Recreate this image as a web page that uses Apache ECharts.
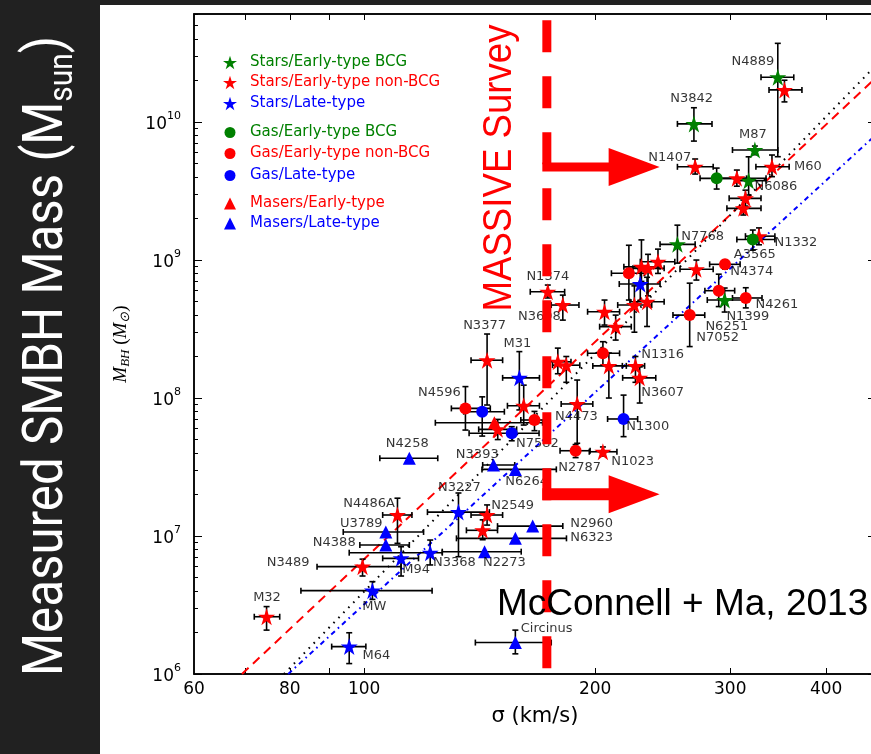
<!DOCTYPE html>
<html><head><meta charset="utf-8">
<script src="https://cdn.jsdelivr.net/npm/echarts@6/dist/echarts.min.js"></script>
<style>
html,body{margin:0;padding:0;background:#212121;}
#wrap{position:relative;width:871px;height:754px;overflow:hidden;background:#212121;}
#white{position:absolute;left:100px;top:5px;width:771px;height:749px;background:#fff;}
#chart{position:absolute;left:0;top:0;width:880px;height:754px;}
</style></head><body>
<div id="wrap"><div id="white"></div><div id="chart"></div></div>
<script>
// ---- data: [sigma (km/s), M_BH (Msun), sigma_lo, sigma_hi, M_lo, M_hi]
const starsEarlyBCG = [
  [346, 2.11e10, 329, 363, 5.61e9, 3.72e10],
  [269, 9.7e9, 256, 284, 7.28e9, 1.27e10],
  [323, 6.27e9, 302, 346, 5.8e9, 6.7e9],
  [317, 3.76e9, 304, 334, 2.96e9, 5.6e9],
  [256, 1.30e9, 243, 270, 9.5e8, 1.79e9],
  [295, 5.13e8, 280, 314, 4.2e8, 6.27e8]
];
const starsEarlyNonBCG = [
  [353, 1.71e10, 337, 372, 1.40e10, 2.01e10],
  [270, 4.74e9, 256, 285, 4.2e9, 5.4e9],
  [340, 4.74e9, 324, 358, 4.02e9, 5.77e9],
  [306, 3.91e9, 291, 334, 3.43e9, 4.49e9],
  [314, 2.80e9, 299, 329, 2.46e9, 3.21e9],
  [312, 2.37e9, 297, 329, 2.12e9, 2.72e9],
  [327, 1.49e9, 314, 343, 1.29e9, 1.71e9],
  [271, 8.57e8, 258, 285, 7.16e8, 1.0e9],
  [173.5, 5.89e8, 164.6, 182.5, 5.31e8, 6.59e8],
  [181.5, 4.72e8, 175.3, 190.5, 3.67e8, 5.57e8],
  [205.7, 4.22e8, 195.5, 215.2, 3.38e8, 5.13e8],
  [212.7, 3.29e8, 202.7, 222.9, 2.63e8, 3.99e8],
  [229.8, 8.93e8, 218, 243, 7.0e8, 1.40e9],
  [234.4, 8.71e8, 224, 246, 5.5e8, 1.10e9],
  [241.5, 9.73e8, 229, 254, 8.0e8, 1.2e9],
  [225, 4.72e8, 214, 237, 3.0e8, 6.5e8],
  [233.7, 4.99e8, 222, 246, 3.3e8, 7.5e8],
  [144.6, 1.88e8, 137.8, 151.5, 8.9e7, 2.91e8],
  [161.4, 8.79e7, 153.7, 169.2, 6.37e7, 1.24e8],
  [149.3, 5.93e7, 141, 158, 5.0e7, 7.0e7],
  [208.4, 1.71e8, 198.6, 219.6, 1.0e8, 2.12e8],
  [225.7, 1.71e8, 217, 232, 1.3e8, 2.0e8],
  [228.6, 1.40e8, 217.2, 239.9, 9.2e7, 1.68e8],
  [178.8, 1.83e8, 172, 186, 1.5e8, 2.3e8],
  [183.4, 1.73e8, 176, 191, 1.3e8, 2.0e8],
  [189.5, 9.06e7, 180.6, 198.6, 4.7e7, 1.35e8],
  [204.7, 4.08e7, 196.5, 213.5, 3.8e7, 4.42e7],
  [110.5, 1.42e7, 105.7, 115.4, 8.85e6, 1.88e7],
  [144.6, 1.42e7, 137.8, 151.5, 1.20e7, 1.68e7],
  [142.7, 1.10e7, 135.9, 149.2, 9.4e6, 1.31e7],
  [99.5, 6.0e6, 86.8, 111.7, 5.13e6, 6.8e6],
  [74.6, 2.60e6, 71.9, 77.6, 2.08e6, 3.08e6]
];
const starsLate = [
  [229, 6.70e8, 215, 243, 5.1e8, 8.5e8],
  [159.3, 1.40e8, 151.5, 169.2, 8.2e7, 2.17e8],
  [132.7, 1.49e7, 120.9, 145.6, 7.08e6, 2.05e7],
  [111.7, 6.89e6, 105.7, 117.7, 5.13e6, 8.36e6],
  [121.9, 7.57e6, 95.6, 126.4, 6.17e6, 9.35e6],
  [102.5, 4.02e6, 82.7, 122.6, 3.47e6, 4.67e6],
  [95.6, 1.58e6, 90.7, 100.5, 1.19e6, 1.99e6]
];
const gasEarlyBCG = [
  [288, 3.91e9, 274, 315, 3.27e9, 4.64e9],
  [321, 1.41e9, 306, 343, 1.18e9, 1.65e9]
];
const gasEarlyNonBCG = [
  [221.3, 8.02e8, 210, 232, 5.13e8, 1.28e9],
  [295.3, 9.31e8, 282, 309, 8.6e8, 1.0e9],
  [289.8, 6.0e8, 278, 304, 4.6e8, 7.9e8],
  [314.3, 5.31e8, 302, 330, 4.5e8, 6.3e8],
  [265.6, 3.99e8, 252.6, 277.9, 2.36e8, 6.8e8],
  [204.7, 2.11e8, 195.5, 215.2, 1.73e8, 2.56e8],
  [188.6, 4.15e7, 180, 197, 3.7e7, 4.6e7],
  [135.5, 8.41e7, 129.9, 146, 5.86e7, 1.21e8],
  [166.7, 6.93e7, 160, 174, 5.8e7, 8.0e7]
];
const gasLate = [
  [142.5, 7.96e7, 134.8, 152.3, 5.3e7, 1.02e8],
  [155.7, 5.55e7, 137, 169, 4.9e7, 6.2e7],
  [217.8, 7.05e7, 207.6, 227.2, 5.25e7, 1.05e8]
];
const masersEarly = [
  [147.8, 6.62e7, 123.8, 170.8, 6.62e7, 6.62e7]
];
const masersLate = [
  [114.5, 3.66e7, 104.8, 124.7, 3.66e7, 3.66e7],
  [147.4, 3.27e7, 142.7, 157.1, 3.27e7, 3.27e7],
  [157.4, 3.04e7, 142.4, 178, 3.04e7, 3.04e7],
  [165.8, 1.18e7, 149.2, 181.5, 1.18e7, 1.18e7],
  [157.4, 9.62e6, 131.9, 183.5, 9.62e6, 9.62e6],
  [143.5, 7.7e6, 126.4, 160.2, 7.7e6, 7.7e6],
  [106.7, 1.07e7, 93.9, 119.5, 1.07e7, 1.07e7],
  [106.7, 8.61e6, 98.7, 114.5, 8.61e6, 8.61e6],
  [157.4, 1.69e6, 139.6, 175.3, 1.40e6, 2.08e6]
];
// galaxy name labels: [text, sigma, M] (data position of the label centre)
const nameLabels = [
  ['N4889', 321, 2.72e10], ['N3842', 267.2, 1.47e10], ['M87', 321, 8.05e9], ['N1407', 250.2, 5.48e9],
  ['M60', 378.7, 4.72e9], ['N6086', 344, 3.38e9], ['N7768', 276.2, 1.47e9], ['N1332', 365.3, 1.33e9],
  ['A3565', 322.9, 1.10e9], ['N4374', 320, 8.18e8], ['N4261', 345, 4.72e8], ['N1399', 316.2, 3.86e8],
  ['N6251', 296.9, 3.27e8], ['N7052', 288.9, 2.72e8], ['N1374', 173.5, 7.53e8], ['N3608', 169.2, 3.86e8],
  ['N3377', 143.5, 3.33e8], ['M31', 158.4, 2.46e8], ['N1316', 244.9, 2.05e8], ['N3607', 244.9, 1.09e8],
  ['N4596', 125.3, 1.09e8], ['N4473', 189.0, 7.28e7], ['N1300', 234.2, 6.17e7], ['N7582', 168.2, 4.64e7],
  ['N4258', 113.8, 4.64e7], ['N3393', 140.4, 3.86e7], ['N2787', 190.9, 3.11e7], ['N1023', 223.8, 3.44e7],
  ['N6264', 162.8, 2.46e7], ['N3227', 133.1, 2.23e7], ['N2549', 156.1, 1.65e7], ['N4486A', 101.5, 1.73e7],
  ['U3789', 99.1, 1.24e7], ['N2960', 197.9, 1.22e7], ['N6323', 197.9, 9.68e6], ['N4388', 91.4, 8.89e6],
  ['N3489', 79.6, 6.37e6], ['M94', 116.9, 5.67e6], ['N3368', 131.1, 6.37e6], ['N2273', 152.3, 6.37e6],
  ['MW', 103.1, 3.06e6], ['M32', 74.7, 3.56e6], ['M64', 103.7, 1.37e6], ['Circinus', 172.9, 2.15e6]
];
// fit relations (end points)
const fitEarly = [[69.3, 1.0e6], [464.6, 2.1e10]];
const fitAll = [[78.6, 1.0e6], [464.6, 2.58e10]];
const fitLate = [[79.6, 1.0e6], [464.6, 8.1e9]];
// MASSIVE survey threshold and arrows
const massiveSigma = 173;
const massiveLine = [[173, 5.48e10], [173, 1.1e6]];
const arrowRows = [4.72e9, 2.01e7];
const arrowTipSigma = 242.7;
// axes
const xTickLabels = [60, 80, 100, 200, 300, 400];
const xTicks = [70, 80, 90, 100, 200, 300, 400];
const yTickLabels = [1e6, 1e7, 1e8, 1e9, 1e10];
const yMinorTicks = [];
for (let e = 6; e <= 10; e++) for (let k = 2; k <= 9; k++) yMinorTicks.push(k * Math.pow(10, e));

const STAR = 'path://M0,-10L2.245,-3.09L9.511,-3.09L3.633,1.18L5.878,8.09L0,3.82L-5.878,8.09L-3.633,1.18L-9.511,-3.09L-2.245,-3.09Z';
const GREEN = '#008000', RED = '#ff0000', BLUE = '#0000ff';
const cats = [
  {name: 'Stars/Early-type BCG', data: starsEarlyBCG, color: GREEN, symbol: STAR, size: 17, lsize: 14, row: 64},
  {name: 'Stars/Early-type non-BCG', data: starsEarlyNonBCG, color: RED, symbol: STAR, size: 17, lsize: 14, row: 84},
  {name: 'Stars/Late-type', data: starsLate, color: BLUE, symbol: STAR, size: 17, lsize: 14, row: 105},
  {name: 'Gas/Early-type BCG', data: gasEarlyBCG, color: GREEN, symbol: 'circle', size: 12, lsize: 11, row: 134},
  {name: 'Gas/Early-type non-BCG', data: gasEarlyNonBCG, color: RED, symbol: 'circle', size: 12, lsize: 11, row: 155},
  {name: 'Gas/Late-type', data: gasLate, color: BLUE, symbol: 'circle', size: 12, lsize: 11, row: 177},
  {name: 'Masers/Early-type', data: masersEarly, color: RED, symbol: 'triangle', size: 13, lsize: 12, row: 205},
  {name: 'Masers/Late-type', data: masersLate, color: BLUE, symbol: 'triangle', size: 13, lsize: 12, row: 225}
];

const FONT = 'DejaVu Sans';
const chart = echarts.init(document.getElementById('chart'), null, {renderer: 'canvas'});

function renderErr(params, api) {
  const s = api.value(0), m = api.value(1), sl = api.value(2), sh = api.value(3), ml = api.value(4), mh = api.value(5);
  const c = api.coord([s, m]);
  const a = api.coord([sl, m]), b = api.coord([sh, m]);
  const st = {stroke: '#000', lineWidth: 1.6};
  const cap = 3;
  const ch = [
    {type: 'line', shape: {x1: a[0], y1: c[1], x2: b[0], y2: c[1]}, style: st},
    {type: 'line', shape: {x1: a[0], y1: c[1] - cap, x2: a[0], y2: c[1] + cap}, style: st},
    {type: 'line', shape: {x1: b[0], y1: c[1] - cap, x2: b[0], y2: c[1] + cap}, style: st}
  ];
  if (mh > ml) {
    const lo = api.coord([s, ml]), hi = api.coord([s, mh]);
    ch.push({type: 'line', shape: {x1: c[0], y1: lo[1], x2: c[0], y2: hi[1]}, style: st});
    ch.push({type: 'line', shape: {x1: c[0] - cap, y1: lo[1], x2: c[0] + cap, y2: lo[1]}, style: st});
    ch.push({type: 'line', shape: {x1: c[0] - cap, y1: hi[1], x2: c[0] + cap, y2: hi[1]}, style: st});
  }
  return {type: 'group', children: ch};
}

const allErr = [];
cats.forEach(c => c.data.forEach(d => allErr.push(d)));

const series = [];
series.push({
  type: 'custom', name: 'err', renderItem: renderErr, data: allErr,
  dimensions: ['s', 'm', 'sl', 'sh', 'ml', 'mh'], encode: {x: 0, y: 1},
  z: 2, silent: true, clip: true
});
const lineCommon = {type: 'line', showSymbol: false, symbol: 'none', silent: true, z: 1, clip: true};
series.push(Object.assign({}, lineCommon, {name: 'fitEarly', data: fitEarly, lineStyle: {color: RED, width: 2, type: [9, 6]}}));
series.push(Object.assign({}, lineCommon, {name: 'fitAll', data: fitAll, lineStyle: {color: '#000', width: 2, type: [1.6, 5.5]}}));
series.push(Object.assign({}, lineCommon, {name: 'fitLate', data: fitLate, lineStyle: {color: BLUE, width: 2, type: [5, 4, 1.6, 4]}}));
cats.forEach(c => {
  series.push({
    type: 'scatter', name: c.name, data: c.data.map(d => [d[0], d[1]]),
    symbol: c.symbol, symbolSize: c.size, itemStyle: {color: c.color, opacity: 1},
    z: 3, silent: true
  });
});
series.push({
  type: 'scatter', name: 'labels', symbolSize: 0, silent: true, z: 4,
  data: nameLabels.map(l => ({name: l[0], value: [l[1], l[2]]})),
  label: {show: true, position: 'inside', formatter: '{b}', color: '#000',
    fontFamily: FONT, fontSize: 13}
});
series.push({
  type: 'line', name: 'massive', data: massiveLine, showSymbol: false, symbol: 'none', silent: true, z: 10,
  lineStyle: {color: RED, width: 9, type: [32, 24], cap: 'butt'}
});

const legends = cats.map(c => ({
  left: 230 - c.lsize / 2, top: c.row - 9, orient: 'vertical', padding: 0,
  itemWidth: c.lsize, itemHeight: c.lsize, selectedMode: false,
  textStyle: {fontFamily: FONT, fontSize: 15, color: c.color, padding: [0, 0, 0, 15 - c.lsize / 2]},
  data: [{name: c.name, icon: c.symbol, itemStyle: {color: c.color}}]
}));

const option = {
  animation: false,
  backgroundColor: 'transparent',
  grid: {left: 194, right: 4, top: 14, bottom: 80, show: true, borderColor: '#000', borderWidth: 1.5},
  legend: legends,
  xAxis: [{
    type: 'log', logBase: 10, min: 60, max: 464.6, position: 'bottom',
    axisLine: {show: true, lineStyle: {color: '#000', width: 1.5}},
    axisTick: {show: true, inside: true, length: 6, customValues: xTicks, lineStyle: {color: '#000', width: 1}},
    axisLabel: {show: true, customValues: xTickLabels, color: '#000', fontFamily: FONT, fontSize: 17, margin: 7,
      formatter: v => String(Math.round(v))},
    splitLine: {show: false}, minorTick: {show: false},
    name: 'σ (km/s)', nameLocation: 'middle', nameGap: 32,
    nameTextStyle: {color: '#000', fontFamily: FONT, fontSize: 21}
  }, {
    type: 'log', logBase: 10, min: 60, max: 464.6, position: 'top',
    axisLine: {show: true, lineStyle: {color: '#000', width: 1.5}},
    axisTick: {show: true, inside: true, length: 6, customValues: xTicks, lineStyle: {color: '#000'}},
    axisLabel: {show: false}, splitLine: {show: false}
  }],
  yAxis: [{
    type: 'log', logBase: 10, min: 1e6, max: 6.07e10, position: 'left',
    axisLine: {show: true, lineStyle: {color: '#000', width: 1.5}},
    axisTick: {show: true, inside: true, length: 8, customValues: yTickLabels, lineStyle: {color: '#000', width: 1}},
    axisLabel: {show: true, customValues: yTickLabels, margin: 13,
      formatter: v => '{b|10}{s|' + Math.round(Math.log10(v)) + '}',
      rich: {
        b: {fontFamily: FONT, fontSize: 17, color: '#000', lineHeight: 22, verticalAlign: 'bottom'},
        s: {fontFamily: FONT, fontSize: 11, color: '#000', lineHeight: 22, verticalAlign: 'top'}
      }},
    splitLine: {show: false},
    name: '{i|M}{sub|BH}{n| (}{i|M}{sub|⊙}{n|)}', nameLocation: 'middle', nameGap: 62,
    nameTextStyle: {rich: {
      i: {fontFamily: 'Liberation Serif', fontStyle: 'italic', fontSize: 19, color: '#000', lineHeight: 22, verticalAlign: 'middle'},
      sub: {fontFamily: 'Liberation Serif', fontStyle: 'italic', fontSize: 13, color: '#000', lineHeight: 22, verticalAlign: 'bottom'},
      n: {fontFamily: 'Liberation Serif', fontSize: 19, color: '#000', lineHeight: 22, verticalAlign: 'middle'}
    }}
  }, {
    type: 'log', logBase: 10, min: 1e6, max: 6.07e10, position: 'left', offset: 0,
    axisLine: {show: false},
    axisTick: {show: true, inside: true, length: 4, customValues: yMinorTicks, lineStyle: {color: '#000', width: 1}},
    axisLabel: {show: false}, splitLine: {show: false}
  }, {
    type: 'log', logBase: 10, min: 1e6, max: 6.07e10, position: 'right',
    axisLine: {show: true, lineStyle: {color: '#000', width: 1.5}},
    axisTick: {show: true, inside: true, length: 8, customValues: yTickLabels, lineStyle: {color: '#000', width: 1}},
    axisLabel: {show: false}, splitLine: {show: false}
  }],
  series: series
};
chart.setOption(option);

// ---- annotations anchored to data coordinates
function tw(t, font) {
  const c = document.createElement('canvas').getContext('2d');
  c.font = font; return c.measureText(t).width;
}
const gfx = [];
arrowRows.forEach((m, i) => {
  const p0 = chart.convertToPixel({xAxisIndex: 0, yAxisIndex: 0}, [massiveSigma, m]);
  const pt = chart.convertToPixel({xAxisIndex: 0, yAxisIndex: 0}, [arrowTipSigma, m]);
  const x0 = p0[0] - 4.5, xt = pt[0], xb = xt - 51, y = p0[1];
  const h = i === 0 ? 4.5 : 6, H = 19;
  gfx.push({type: 'polygon', z: 100, silent: true,
    shape: {points: [[x0, y - h], [xb, y - h], [xb, y - H], [xt, y], [xb, y + H], [xb, y + h], [x0, y + h]]},
    style: {fill: RED}});
});
const mFont = '40px "Liberation Sans"';
const mLen = tw('MASSIVE Survey', mFont);
const pm = chart.convertToPixel({xAxisIndex: 0, yAxisIndex: 0}, [massiveSigma, 1e9]);
gfx.push({type: 'text', z: 100, silent: true, x: pm[0] - 47, y: 168, rotation: Math.PI / 2,
  scaleX: 287 / mLen, scaleY: 1,
  style: {text: 'MASSIVE Survey', font: mFont, fill: RED, align: 'center', verticalAlign: 'middle'}});
gfx.push({type: 'text', z: 100, silent: true, x: 497, y: 605,
  style: {text: 'McConnell + Ma, 2013', fontFamily: 'Liberation Sans', fontSize: 37, fill: '#000', align: 'left', verticalAlign: 'middle'}});
const tLen = tw('Measured SMBH Mass (M', '56px Roboto') + tw('sun', '34px Roboto') + tw(')', '56px Roboto');
gfx.push({type: 'text', z: 100, silent: true, x: 48, y: 356, rotation: Math.PI / 2,
  scaleX: 640 / tLen, scaleY: 1,
  style: {text: '{a|Measured SMBH Mass (M}{s|sun}{a|)}', align: 'center', verticalAlign: 'middle',
    rich: {
      a: {fontFamily: 'Roboto', fontSize: 56, fill: '#fff', color: '#fff', lineHeight: 64, verticalAlign: 'middle'},
      s: {fontFamily: 'Roboto', fontSize: 34, fill: '#fff', color: '#fff', lineHeight: 64, verticalAlign: 'bottom'}
    }}});
chart.setOption({graphic: gfx});
</script>
</body></html>
